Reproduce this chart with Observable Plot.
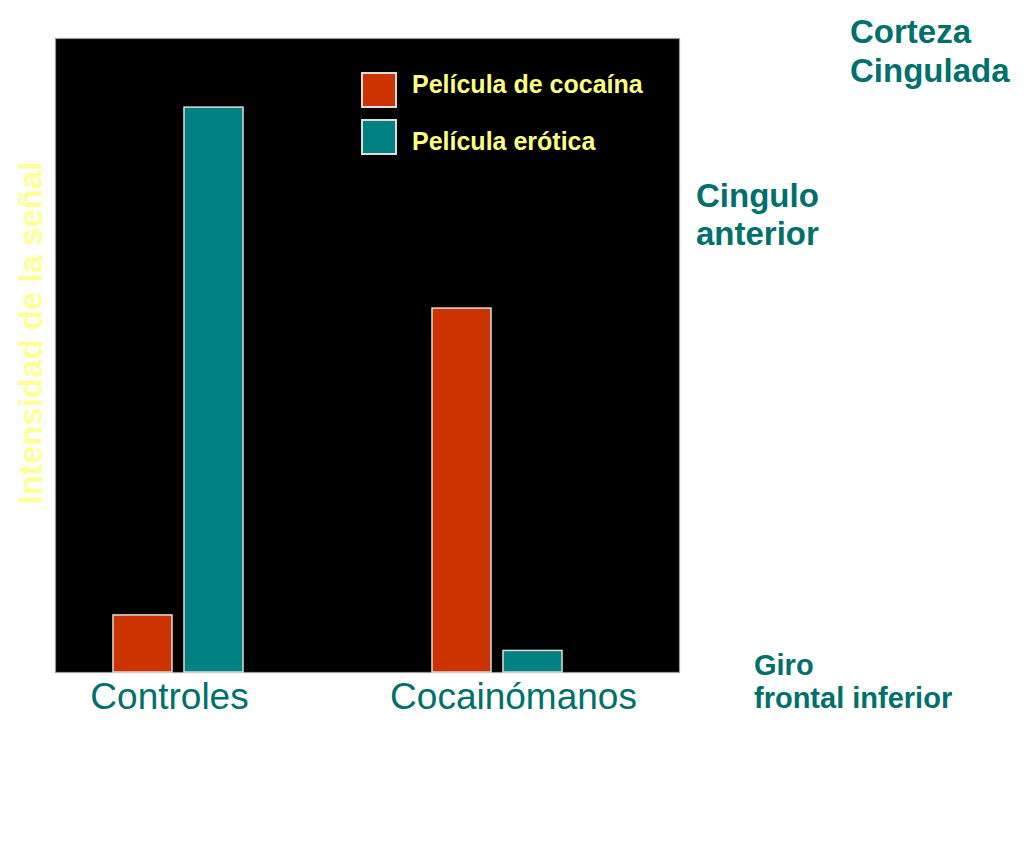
<!DOCTYPE html>
<html>
<head>
<meta charset="utf-8">
<script src="https://cdn.jsdelivr.net/npm/d3@7"></script>
<script src="https://cdn.jsdelivr.net/npm/@observablehq/plot@0.6"></script>
<style>
  html, body { margin: 0; padding: 0; background: #fff; overflow: hidden; }
  #wrap { position: relative; width: 1025px; height: 844px; font-family: "Liberation Sans", Arial, sans-serif; }
  #wrap svg { display: block; }
  .ov { position: absolute; white-space: nowrap; font-weight: bold; }
  .teal { color: #00706b; }
  .sw { position: absolute; width: 32px; height: 32px; border: 2px solid #dcdcdc; }
</style>
</head>
<body>
<div id="wrap"></div>
<script>
const groups = ["Controles", "Cocainómanos"];
const series = ["Película de cocaína", "Película erótica"];
const cocaina = [9.0, 57.4];
const erotica = [89.1, 3.4];
const colors = ["#cc3300", "#008080"];
const yLabel = "Intensidad de la señal";
const notes = [["Corteza", "Cingulada"], ["Cingulo", "anterior"], ["Giro", "frontal inferior"]];

const rows = groups.flatMap((g, i) => [
  {group: g, series: series[0], value: cocaina[i]},
  {group: g, series: series[1], value: erotica[i]}
]);

const labelStyle = {frameAnchor: "bottom", lineAnchor: "top", dy: 10, fontSize: 37, fill: "#00706b"};

const chart = Plot.plot({
  width: 1025,
  height: 844,
  marginTop: 38,
  marginBottom: 172,
  marginLeft: 55,
  marginRight: 346,
  style: {fontFamily: "'Liberation Sans', Arial, sans-serif", background: "white"},
  x: {domain: groups, paddingInner: 0.5925, paddingOuter: 0.2743, align: 0.331, axis: null},
  y: {domain: [0, 100], axis: null},
  color: {domain: series, range: colors},
  marks: [
    Plot.frame({fill: "black", stroke: "#9a9a9a", strokeWidth: 1.2}),
    Plot.barY(rows.filter(d => d.series === series[0]), {
      x: "group", y: "value", fill: "series", stroke: "#dedede", strokeWidth: 1.5, insetRight: 71
    }),
    Plot.barY(rows.filter(d => d.series === series[1]), {
      x: "group", y: "value", fill: "series", stroke: "#dedede", strokeWidth: 1.5, insetLeft: 71
    }),
    Plot.text([groups[0]], {x: d => d, text: d => d, dx: -9, ...labelStyle}),
    Plot.text([groups[1]], {x: d => d, text: d => d, dx: 16, ...labelStyle})
  ]
});

const wrap = document.getElementById("wrap");
wrap.appendChild(chart);

function addDiv(cls, css, html) {
  const d = document.createElement("div");
  d.className = cls;
  Object.assign(d.style, css);
  d.innerHTML = html;
  wrap.appendChild(d);
  return d;
}

// y label
addDiv("ov", {left: "30px", top: "333px", transform: "translate(-50%,-50%) rotate(-90deg)",
  fontSize: "33px", lineHeight: "33px", color: "#ffff99"}, yLabel);

// legend
series.forEach((s, i) => {
  addDiv("sw", {left: "361px", top: (72 + i * 47) + "px", background: colors[i]}, "");
  addDiv("ov", {left: "412px", top: (71.8 + i * 57) + "px", fontSize: "25px", lineHeight: "25px", color: "#ffff80"}, s);
});

// region notes
addDiv("ov teal", {left: "850px", top: "12px", fontSize: "33px", lineHeight: "39px"}, notes[0].join("<br>"));
addDiv("ov teal", {left: "696px", top: "176.5px", fontSize: "33px", lineHeight: "38px"}, notes[1].join("<br>"));
addDiv("ov teal", {left: "754px", top: "648.5px", fontSize: "29px", lineHeight: "33px"}, notes[2].join("<br>"));
</script>
</body>
</html>
